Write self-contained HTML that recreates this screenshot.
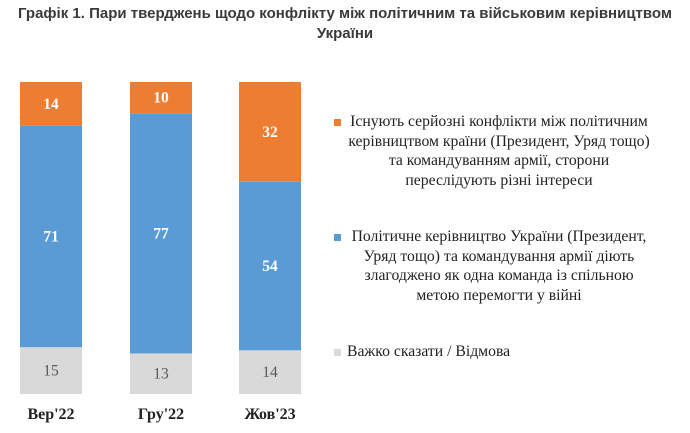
<!DOCTYPE html>
<html><head><meta charset="utf-8"><style>
body{margin:0;width:690px;height:433px;background:#fff;position:relative;overflow:hidden}
.title{position:absolute;left:0;top:4px;width:690px;text-align:center;font:bold 15px/20px "Liberation Sans",sans-serif;color:#3a3a3a}
svg{position:absolute;left:0;top:0}
.leg{position:absolute;left:344px;width:310px;text-align:center;font:15.7px/19.5px "Liberation Serif",serif;color:#222;white-space:nowrap}
.sq{position:absolute;left:334px;width:7px;height:7px}
</style></head><body>
<div class="title">Графік 1. Пари тверджень щодо конфлікту між політичним та військовим керівництвом<br>України</div>
<svg id="chart" width="690" height="433"></svg>
<div class="sq" style="top:119px;background:#ed7d31"></div>
<div class="leg" style="top:112px">Існують серйозні конфлікти між політичним<br>керівництвом країни (Президент, Уряд тощо)<br>та командуванням армії, сторони<br>переслідують різні інтереси</div>
<div class="sq" style="top:234px;background:#5b9bd5"></div>
<div class="leg" style="top:227px">Політичне керівництво України (Президент,<br>Уряд тощо) та командування армії діють<br>злагоджено як одна команда із спільною<br>метою перемогти у війні</div>
<div class="sq" style="top:349px;background:#d9d9d9"></div>
<div class="leg" style="top:342px;left:347px;width:auto;text-align:left">Важко сказати / Відмова</div>
<script>
const categories=["Вер'22","Гру'22","Жов'23"];
const hardToSay=[15,13,14];
const team=[71,77,54];
const conflict=[14,10,32];
const svg=document.getElementById('chart');
const NS='http://www.w3.org/2000/svg';
const barX=[20,130,239],barW=62,y0=394,H=312;
function yScale(v){return v/100*H;}
function mk(t,a){const e=document.createElementNS(NS,t);for(const k in a)e.setAttribute(k,a[k]);svg.appendChild(e);return e;}
const series=[[hardToSay,'#d9d9d9','#595959','normal','hard-to-say'],[team,'#5b9bd5','#fff','bold','team'],[conflict,'#ed7d31','#fff','bold','conflict']];
categories.forEach((c,i)=>{
  let base=y0;
  series.forEach(s=>{
    const h=yScale(s[0][i]);
    const r=mk('rect',{x:barX[i],y:base-h,width:barW,height:h,fill:s[1]});
    
    
    const t=mk('text',{x:barX[i]+barW/2,y:base-h/2+5,'text-anchor':'middle','font-family':'Liberation Serif, serif','font-size':'15.5','font-weight':s[3],fill:s[2]});
    t.textContent=s[0][i];
    
    
    base-=h;
  });
  const l=mk('text',{x:barX[i]+barW/2,y:419,'text-anchor':'middle','font-family':'Liberation Serif, serif','font-size':'16','font-weight':'bold',fill:'#222'});
  l.textContent=c;
  
  
});
</script>
</body></html>
